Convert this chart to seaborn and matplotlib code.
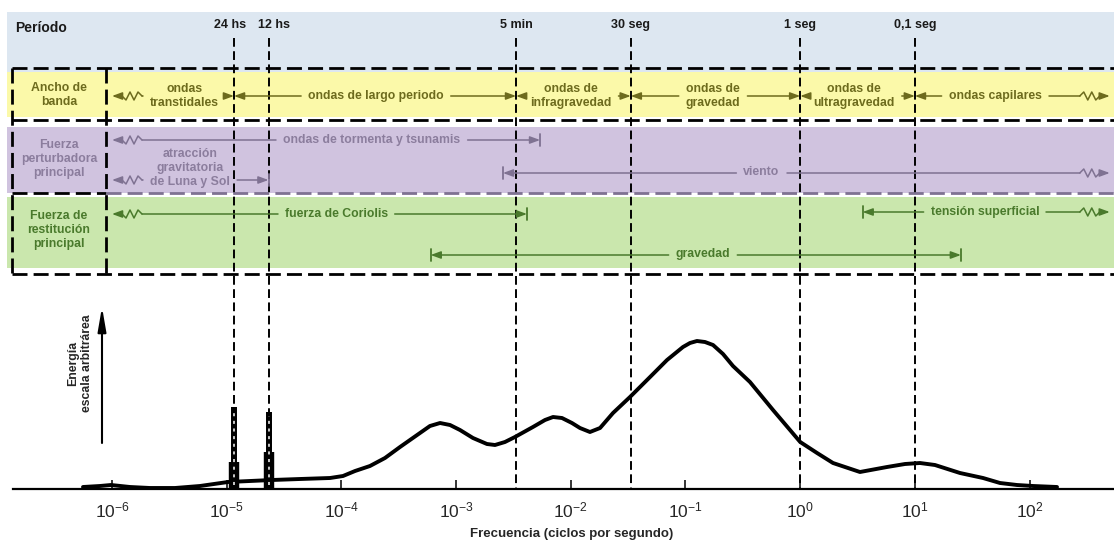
import numpy as np
import matplotlib
matplotlib.use('Agg')
import matplotlib.pyplot as plt
import matplotlib.ticker as mticker
import seaborn as sns

# ---------------- data ----------------
# energy spectrum: log10 of frequency (Hz) and energy (arbitrary scale)
spec_logf = [-6.253, -6.105, -6.009, -5.843, -5.669, -5.451, -5.233, -4.989, -4.797, -4.605,
             -4.361, -4.099, -3.986, -3.881, -3.751, -3.620, -3.489, -3.315, -3.228, -3.140,
             -3.053, -2.966, -2.853, -2.731, -2.661, -2.574, -2.487, -2.330, -2.225, -2.155,
             -2.077, -1.990, -1.920, -1.833, -1.745, -1.632, -1.484, -1.309, -1.161, -1.022,
             -0.961, -0.900, -0.830, -0.760, -0.673, -0.586, -0.438, -0.237, 0.000, 0.147,
             0.286, 0.521, 0.757, 0.914, 1.044, 1.175, 1.393, 1.594, 1.742, 1.890,
             2.030, 2.239]
spec_energy = [2, 3, 4, 2, 1, 1, 3, 7, 8, 9,
               10, 11, 13, 18, 23, 31, 42, 56, 63, 66,
               64, 59, 51, 45, 44, 47, 52, 62, 69, 72,
               71, 66, 61, 57, 61, 76, 92, 112, 129, 142,
               146, 148, 147, 144, 135, 123, 107, 79, 47, 36,
               26, 17, 22, 25, 26, 24, 16, 11, 6, 4,
               3, 2]

# tidal lines (24 h and 12 h)
tide_freq = [1 / 86400, 1 / 43200]
tide_peak = [82, 77]
tide_body = [27, 37]

# reference periods
period_labels = ['24 hs', '12 hs', '5 min', '30 seg', '1 seg', '0,1 seg']
period_sec = [86400, 43200, 300, 30, 1, 0.1]
period_nudge = [-4, 5, 0, 0, 0, 0]

decades = [1e-6, 1e-5, 1e-4, 1e-3, 1e-2, 1e-1, 1e0, 1e1, 1e2]

# row "Ancho de banda"
band_labels = ['ondas\ntranstidales', 'ondas de largo periodo', 'ondas de\ninfragravedad',
               'ondas de\ngravedad', 'ondas de\nultragravedad', 'ondas capilares']
band_lo = [1e-6, 1 / 86400, 1 / 300, 1 / 30, 1, 10]
band_hi = [1 / 86400, 1 / 300, 1 / 30, 1, 10, 500]
band_at = [4.3e-6, 2.0e-4, 1.0e-2, 0.174, 2.95, 50]
band_lo_end = ['wavy', 'head', 'head', 'head', 'head', 'head']
band_hi_end = ['head', 'head', 'head', 'head', 'head', 'wavy']

# row "Fuerza perturbadora principal"
dist_labels = ['ondas de tormenta y tsunamis', 'atracción\ngravitatoria\nde Luna y Sol', 'viento']
dist_lo = [1e-6, 1e-6, 2.56e-3]
dist_hi = [5.4e-3, 1 / 43200, 500]
dist_at = [1.85e-4, 4.8e-6, 0.46]
dist_lo_end = ['wavy', 'wavy', 'bar']
dist_hi_end = ['bar', 'bar', 'wavy']

# row "Fuerza de restitución principal"
rest_labels = ['fuerza de Coriolis', 'tensión superficial', 'gravedad']
rest_lo = [1e-6, 3.5, 6.0e-4]
rest_hi = [4.15e-3, 500, 25.2]
rest_at = [9e-5, 40.8, 0.142]
rest_lo_end = ['wavy', 'bar', 'bar']
rest_hi_end = ['bar', 'wavy', 'bar']

box_labels = ['Ancho de\nbanda', 'Fuerza\nperturbadora\nprincipal', 'Fuerza de\nrestitución\nprincipal']

# ---------------- layout (pixels) ----------------
W, H = 1114, 543
BASE = 489           # pixel row of the frequency axis
PX_DEC = 114.7       # pixels per decade
LOG_LEFT = -6 - 112 / PX_DEC

OLIVE, PURPLE, GREEN = '#6d6b1d', '#8b7d9d', '#4a7a2c'
PURPLE_LINE = '#7f7292'
LSP = 1.25


def fx(px):
    return 10 ** (LOG_LEFT + np.asarray(px, dtype=float) / PX_DEC)


def fy(py):
    return BASE - np.asarray(py, dtype=float)


def to_px(f):
    return (np.log10(f) - LOG_LEFT) * PX_DEC


sns.set_style('white')
plt.rcParams['font.family'] = ['Liberation Sans', 'DejaVu Sans']

fig = plt.figure(figsize=(W / 100, H / 100), dpi=100)
ax = fig.add_axes([0, (H - BASE) / H, 1, BASE / H])
ax.set_xscale('log')
ax.set_xlim(fx(0), fx(W))
ax.set_ylim(0, BASE)
for s in ['top', 'left', 'right']:
    ax.spines[s].set_visible(False)
ax.spines['bottom'].set_color('black')
ax.spines['bottom'].set_linewidth(1.6)
ax.spines['bottom'].set_bounds(fx(13), fx(W))
ax.set_yticks([])
ax.set_xticks(decades)
ax.xaxis.set_minor_locator(mticker.NullLocator())
ax.tick_params(axis='x', which='major', bottom=True, direction='in', length=6.5,
               width=1.1, color='black', labelsize=12.5, pad=8)

# background bands
band_colors = ['#dde7f1', '#fbf9a9', '#d0c3df', '#cae7ad']
band_top = [12, 72, 127, 197]
band_bot = [72, 117, 193, 268]
for c, t, b in zip(band_colors, band_top, band_bot):
    ax.axhspan(fy(b), fy(t), xmin=7 / W, xmax=1, color=c, lw=0, zorder=0)

# dashed frame
frame_ls = (0, (5.4, 2.2))
for y in [68, 120, 274]:
    ax.plot(fx([12, W]), fy([y, y]), color='black', lw=2, ls=frame_ls, zorder=2)
ax.plot(fx([12, 106]), fy([193, 193]), color='black', lw=2, ls=frame_ls, zorder=2)
ax.plot(fx([106, W]), fy([193, 193]), color=PURPLE_LINE, lw=2, ls=frame_ls, zorder=2)
for x in [12, 106]:
    ax.plot(fx([x, x]), fy([68, 274]), color='black', lw=2, ls=frame_ls, zorder=2)

# period lines
period_freq = [1 / s for s in period_sec]
for f in period_freq:
    ax.plot([f, f], fy([38, BASE]), color='black', lw=1.4, ls=(0, (4.5, 2.3)), zorder=2)
for lab, f, nd in zip(period_labels, period_freq, period_nudge):
    ax.text(fx(to_px(f) + nd), fy(25), lab, ha='center', va='center',
            fontsize=9, fontweight='bold', color='#1a1a1a')
ax.text(fx(15), fy(28), 'Período', ha='left', va='center', fontsize=10,
        fontweight='bold', color='#1a1a1a')

# left box labels
for lab, y, c in zip(box_labels, [95, 159, 230], [OLIVE, PURPLE, GREEN]):
    ax.text(fx(59), fy(y), lab, ha='center', va='center', fontsize=8.8,
            fontweight='bold', color=c, linespacing=LSP)

# spectrum
sns.lineplot(x=10 ** np.array(spec_logf), y=spec_energy, ax=ax, color='black',
             lw=2.8, sort=False, estimator=None, zorder=3, solid_joinstyle='round')
ax.vlines(tide_freq, 0, tide_peak, color='black', lw=4.3, zorder=3)
ax.vlines(tide_freq, 0, tide_body, color='black', lw=7.5, zorder=3)
ax.vlines(tide_freq, 4, np.array(tide_peak) - 4, color='white', lw=1.1,
          linestyles=(0, (2, 3)), zorder=4)

# energy arrow + label
ax.annotate('', xy=(fx(102), fy(307)), xytext=(fx(102), fy(443)),
            arrowprops=dict(arrowstyle='-|>,head_length=1.45,head_width=0.25',
                            color='black', lw=1.5, shrinkA=0, shrinkB=0, mutation_scale=10))
ax.text(fx(80), fy(363), 'Energía\nescala arbitrárea', rotation=90, ha='center',
        va='center', fontsize=8.8, fontweight='bold', linespacing=LSP)

fig.text(572 / W, 1 - 534 / H, 'Frecuencia (ciclos por segundo)', ha='center',
         va='center', fontsize=9.5, fontweight='bold')

# range labels, arrows are added once text widths are known
items = []


def add_row(labels, lo, hi, at, text_y, arrow_y, lo_end, hi_end, color, line_color):
    for i, lab in enumerate(labels):
        t = ax.text(at[i], fy(text_y[i]), lab, ha='center', va='center', color=color,
                    fontsize=8.8, fontweight='bold', linespacing=LSP, zorder=5)
        items.append((t, lo[i], hi[i], arrow_y[i], lo_end[i], hi_end[i], line_color))


add_row(band_labels, band_lo, band_hi, band_at, [96] * 6, [96] * 6,
        band_lo_end, band_hi_end, OLIVE, OLIVE)
add_row(dist_labels, dist_lo, dist_hi, dist_at, [140, 168, 172], [140, 180, 173],
        dist_lo_end, dist_hi_end, PURPLE, PURPLE_LINE)
add_row(rest_labels, rest_lo, rest_hi, rest_at, [214, 212, 254], [214, 212, 255],
        rest_lo_end, rest_hi_end, GREEN, GREEN)

fig.canvas.draw()
renderer = fig.canvas.get_renderer()
GAP = 7
ZIG = [0, -4, 4, -4, 4, 0]


def head(x_from, x_tip, py, c):
    ax.annotate('', xy=(fx(x_tip), fy(py)), xytext=(fx(x_from), fy(py)),
                arrowprops=dict(arrowstyle='-|>,head_length=0.6,head_width=0.22',
                                color=c, lw=1.1, shrinkA=0, shrinkB=0, mutation_scale=10),
                zorder=4)


def side(start, tip, d, py, kind, c):
    if kind == 'wavy':
        z1 = tip - d * 10
        z0 = z1 - d * 20
        ax.plot(fx([start, z0]), fy([py, py]), color=c, lw=1.1, zorder=4)
        zx = [z0 + d * 4 * k for k in range(6)]
        ax.plot(fx(zx), fy(np.array(ZIG) + py), color=c, lw=1.1, zorder=4)
        head(z1, tip, py, c)
    else:
        if d * (tip - start) < 9:
            start = tip - d * 9
        head(start, tip, py, c)
        if kind == 'bar':
            ax.plot(fx([tip, tip]), fy([py - 6, py + 6]), color=c, lw=1.3, zorder=4)


for t, lo, hi, ay, e_lo, e_hi, c in items:
    bb = t.get_window_extent(renderer)
    side(bb.x0 - GAP, to_px(lo), -1, ay, e_lo, c)
    side(bb.x1 + GAP, to_px(hi), 1, ay, e_hi, c)

fig.savefig('out.png', dpi=100)
